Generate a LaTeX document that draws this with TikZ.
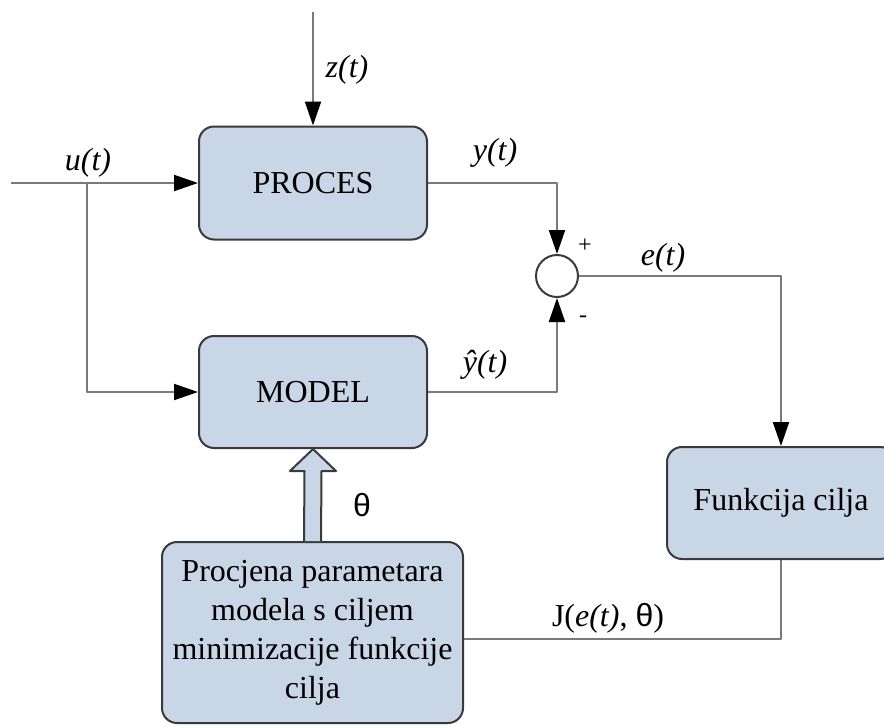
\documentclass[tikz,border=0pt]{standalone}
\usepackage{fontspec}
\setmainfont{Liberation Serif}
\newfontfamily\thetafont{Liberation Sans}
\usetikzlibrary{arrows.meta}
\definecolor{boxfill}{HTML}{C8D6E6}
\definecolor{boxline}{HTML}{3A3A3A}
\definecolor{wirecol}{HTML}{7A7A7A}
\begin{document}
\begin{tikzpicture}[x=0.5pt,y=-0.5pt,>={Triangle[length=12pt,width=8pt,color=black]},line join=round,
	font=\fontsize{16}{19.5}\selectfont,
	block/.style={draw=boxline,line width=1pt,fill=boxfill,rounded corners=7.5pt,inner sep=0pt,align=center},
	wire/.style={draw=wirecol,line width=1pt},
	sig/.style={font=\fontsize{16}{19.5}\selectfont\itshape},
	sign/.style={font=\fontsize{12}{14}\selectfont}]
		\useasboundingbox (0,0) rectangle (884,725);
		\node[block,minimum width=114pt,minimum height=56.5pt] (proc) at (313,183) {PROCES};
		\node[block,minimum width=114pt,minimum height=56pt] (model) at (313,392) {MODEL};
		\node[block,minimum width=114pt,minimum height=56pt] (fun) at (781,503) {Funkcija cilja};
		\node[block,minimum width=150.5pt,minimum height=90.5pt] (est) at (312.5,632.5)
		{Procjena parametara\\modela s ciljem\\minimizacije funkcije\\cilja};
		\node[circle,draw=boxline,line width=1pt,fill=white,minimum size=21pt,inner sep=0pt] (sum) at (557,276) {};
		\coordinate (zin) at (313,12);
		\coordinate (uin) at (11,183);
		\coordinate (usplit) at (87,183);
		\coordinate (jcorner) at (781,639);
		\draw[wire,->] (zin)--(proc.north);
		\draw[wire,->] (uin)--(proc.west);
		\draw[wire,->] (usplit)|-(model.west);
		\draw[wire,->] (proc.east)-|(sum.north);
		\draw[wire,->] (model.east)-|(sum.south);
		\draw[wire,->] (sum.east)-|(fun.north);
		\draw[wire] (fun.south)--(jcorner)--(jcorner-|est.east);
		\draw[draw=boxline,line width=1pt,fill=boxfill] ([xshift=-4.25pt]est.north)
		--([xshift=-4.25pt,yshift=-11pt]model.south)--([xshift=-11.5pt,yshift=-11pt]model.south)
		--(model.south)--([xshift=11.5pt,yshift=-11pt]model.south)
		--([xshift=4.25pt,yshift=-11pt]model.south)--([xshift=4.25pt]est.north);
		\node[sig] (zlab) at (347,70) {z(t)};
		\node[sig] (ulab) at (88,163) {u(t)};
		\node[sig] (ylab) at (495,153) {y(t)};
		\node[sig] (yhlab) at (485,365) {ŷ(t)};
		\node[sign] (plus) at (585,246) {+};
		\node[sign] (minus) at (583,319) {-};
		\node[sig] (elab) at (663,258) {e(t)};
		\node (thlab) at (362,505) {\thetafont θ};
		\node (jlab) at (608,618) {J(\textit{e(t)}, {\thetafont θ})};
\end{tikzpicture}
\end{document}
